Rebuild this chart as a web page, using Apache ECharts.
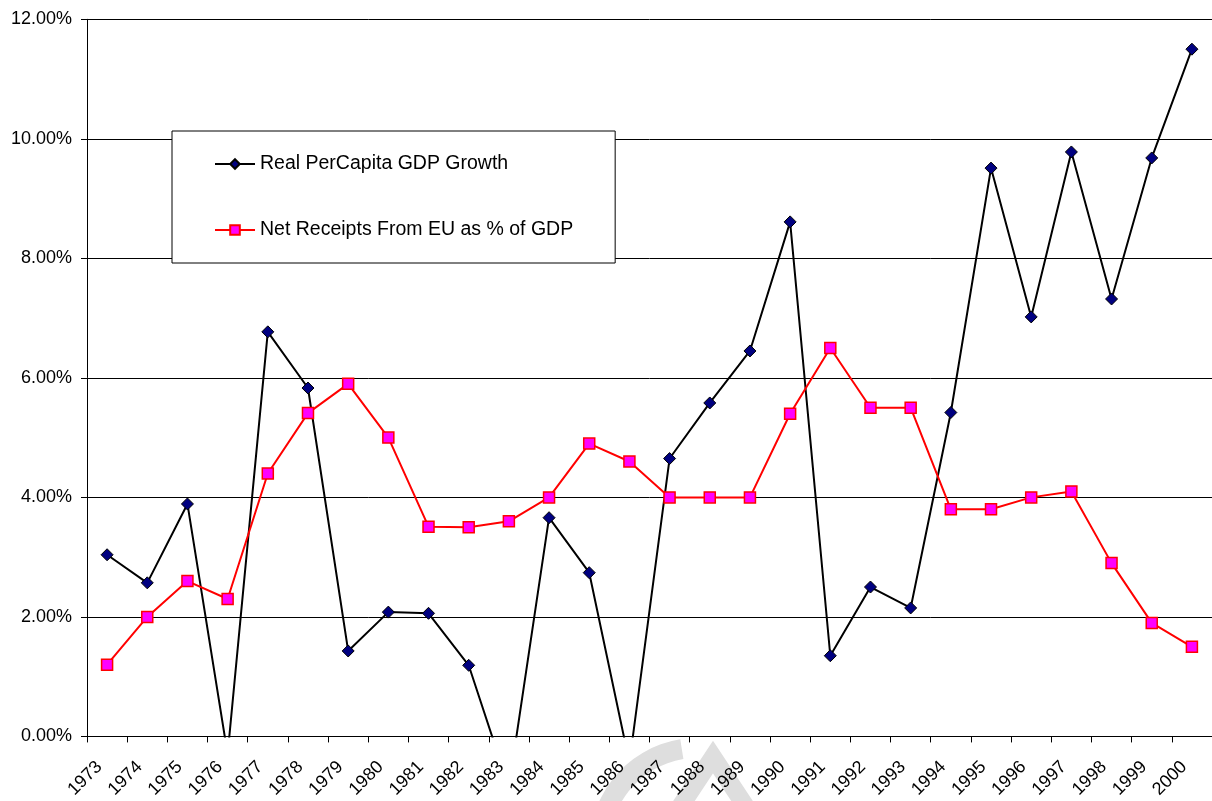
<!DOCTYPE html>
<html>
<head>
<meta charset="utf-8">
<script src="https://cdn.jsdelivr.net/npm/echarts@6/dist/echarts.min.js"></script>
<style>
html,body{margin:0;padding:0;background:#fff;}
#chart{width:1212px;height:801px;}
</style>
</head>
<body>
<div id="chart"></div>
<script>
const years = ['1973','1974','1975','1976','1977','1978','1979','1980','1981','1982','1983','1984','1985','1986','1987','1988','1989','1990','1991','1992','1993','1994','1995','1996','1997','1998','1999','2000'];
const gdpGrowth = [3.04, 2.57, 3.89, -0.30, 6.77, 5.83, 1.43, 2.08, 2.06, 1.19, -0.85, 3.66, 2.74, -0.44, 4.65, 5.58, 6.45, 8.61, 1.35, 2.50, 2.15, 5.42, 9.51, 7.02, 9.78, 7.32, 9.68, 11.50];
const euReceipts = [1.20, 2.00, 2.60, 2.30, 4.40, 5.41, 5.90, 5.00, 3.51, 3.50, 3.60, 4.00, 4.90, 4.60, 4.00, 4.00, 4.00, 5.40, 6.50, 5.50, 5.50, 3.80, 3.80, 4.00, 4.10, 2.90, 1.90, 1.50];
const seriesNames = ['Real PerCapita GDP Growth', 'Net Receipts From EU as % of GDP'];

const FONT = 'Liberation Sans, Arial, sans-serif';
const chart = echarts.init(document.getElementById('chart'));
chart.setOption({
  animation: false,
  backgroundColor: '#fff',
  graphic: [
    {type:'sector', z:-1, silent:true,
     shape:{cx:697, cy:845, r0:87, r:107, startAngle:Math.PI*0.97, endAngle:Math.PI*1.45},
     style:{fill:'#dedede'}},
    {type:'polyline', z:-1, silent:true,
     shape:{points:[[678,810],[713,757],[748,810]]},
     style:{stroke:'#dedede', lineWidth:18, fill:null, lineJoin:'miter'}}
  ],
  grid: {left:87, top:19.3, width:1132, height:717.4, containLabel:false},
  legend: {
    orient:'vertical', left:172, top:131,
    padding:[23,42,23,42], itemGap:46, itemWidth:40, itemHeight:12,
    backgroundColor:'#fff', borderColor:'#000', borderWidth:1, borderRadius:0,
    textStyle:{fontFamily:FONT, fontSize:19.5, color:'#000'},
    data: seriesNames
  },
  xAxis: {
    type:'category', data: years, boundaryGap:true,
    axisLine:{lineStyle:{color:'#000', width:1}},
    axisTick:{show:true, alignWithLabel:false, interval:0, length:6, lineStyle:{color:'#000'}},
    axisLabel:{interval:0, rotate:45, margin:20, padding:[0,11,0,0], fontFamily:FONT, fontSize:18, color:'#000'},
    splitLine:{show:false}
  },
  yAxis: {
    type:'value', min:0, max:12, interval:2,
    axisLine:{show:true, lineStyle:{color:'#000', width:1}},
    axisTick:{show:true, length:6, lineStyle:{color:'#000'}},
    axisLabel:{margin:15, fontFamily:FONT, fontSize:18, color:'#000', formatter:v=>v.toFixed(2)+'%'},
    splitLine:{show:true, lineStyle:{color:'#000', width:1}}
  },
  series: [
    {name:seriesNames[0], type:'line', data:gdpGrowth, clip:true,
     symbol:'diamond', symbolSize:12,
     lineStyle:{color:'#000', width:2},
     itemStyle:{color:'#000080', borderColor:'#000', borderWidth:1}},
    {name:seriesNames[1], type:'line', data:euReceipts, clip:true,
     symbol:'rect', symbolSize:11,
     lineStyle:{color:'#ff0000', width:2},
     itemStyle:{color:'#ff00ff', borderColor:'#ff0000', borderWidth:1.5}}
  ]
});
</script>
</body>
</html>
